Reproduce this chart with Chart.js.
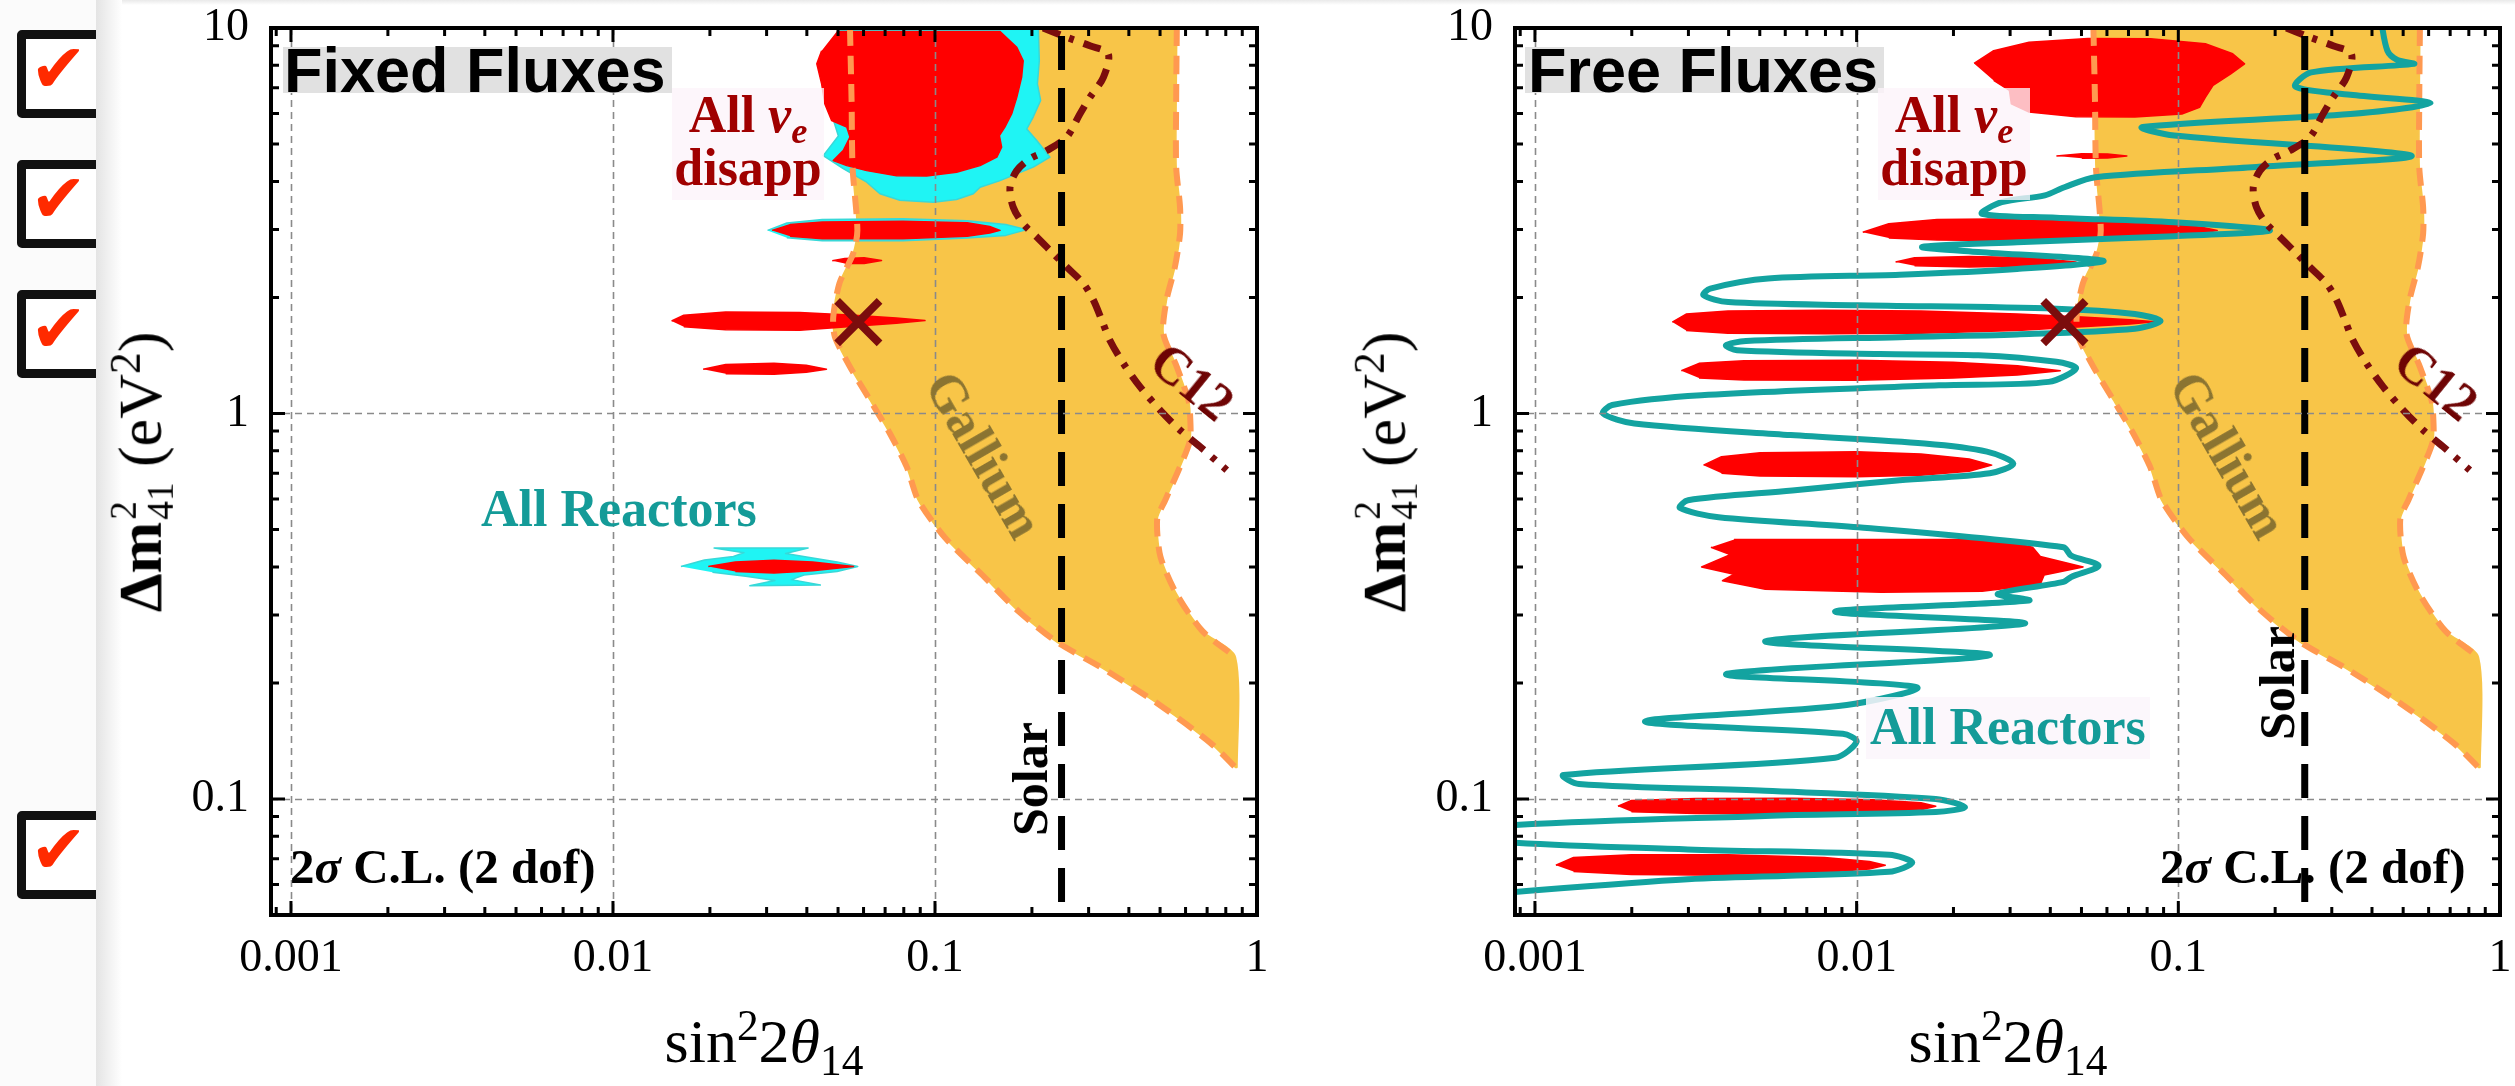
<!DOCTYPE html>
<html>
<head>
<meta charset="utf-8">
<title>Sterile neutrino fits: fixed vs free fluxes</title>
<script src="https://cdn.jsdelivr.net/npm/chart.js@4.4.1/dist/chart.umd.min.js"></script>
<style>
  html, body { margin: 0; padding: 0; background: #fff; }
  #page { position: relative; width: 2515px; height: 1086px; overflow: hidden; background: #fff;
          font-family: "Liberation Serif", "DejaVu Serif", serif; }
  .panel { position: absolute; top: 0; }
  .lbl { position: absolute; white-space: nowrap; line-height: 1; font-weight: bold; }
  .rot { transform: translate(-50%, -50%); transform-origin: center center; }
  .fluxTag { font-family: "Liberation Sans", Arial, sans-serif; font-size: 63px; line-height: 46px; height: 46px;
             background: #e1e1e1; color: #000; padding: 0 6px 0 1px; }
  .disapp { font-size: 52px; line-height: 53px; width: 152px; height: 112px; text-align: center;
            color: #a00000; background: rgba(252, 243, 250, 0.78); }
  .disapp sub, .axt sub, .axt sup { font-size: 0.7em; line-height: 0; }
  .reactors { font-size: 52px; color: #149b98; }
  .gallium { font-size: 52px; color: #8b7431; }
  .c12 { font-size: 52px; color: #6e0404; }
  .solar { font-size: 50px; color: #000; }
  .cl { font-size: 49px; color: #000; }
  .axt { position: absolute; white-space: nowrap; font-size: 62px; line-height: 62px; color: #000; }
  .stk { display: inline-block; vertical-align: -0.32em; font-size: 0.6em; line-height: 1; margin-left: 2px; }
  .stk span { display: block; }
  #rail { position: absolute; left: 0; top: 0; width: 96px; height: 1086px; overflow: hidden; background: #fbfbfb; }
  #railShade { position: absolute; left: 96px; top: 0; width: 26px; height: 1086px;
               background: linear-gradient(to right, #e4e4e4, #ffffff); }
  #topShade { position: absolute; left: 0; top: 0; width: 2515px; height: 5px;
              background: linear-gradient(to bottom, #e9e9e9, #ffffff); }
  .chk { position: absolute; left: 17px; width: 88px; height: 88px; box-sizing: border-box;
         border: 9px solid #111; border-radius: 5px; background: #fff; overflow: hidden; }
  .chk span { position: absolute; left: 4px; top: -10px; font-family: "DejaVu Sans", sans-serif;
              font-size: 68px; color: #ff2a00; }
</style>
</head>
<body>
<div id="page">
  <div id="topShade"></div>
  <div id="rail">
    <div class="chk" style="top:30px"><span>✔</span></div>
    <div class="chk" style="top:160px"><span>✔</span></div>
    <div class="chk" style="top:290px"><span>✔</span></div>
    <div class="chk" style="top:811px"><span>✔</span></div>
  </div>
  <div id="railShade"></div>

  <div class="panel" style="left:110px"><canvas id="fixedCanvas" width="1180" height="1086"></canvas></div>
  <div class="panel" style="left:1370px"><canvas id="freeCanvas" width="1145" height="1086"></canvas></div>

  <!-- left panel texts -->
  <div class="lbl fluxTag" style="left:283px; top:47px;">Fixed Fluxes</div>
  <div class="lbl disapp" style="left:672px; top:88px;">All <i>ν</i><sub><i>e</i></sub><br>disapp</div>
  <div class="lbl reactors" style="left:481px; top:483px;">All Reactors</div>
  <div class="lbl gallium rot" style="left:984px; top:455px; transform: translate(-50%,-50%) rotate(60deg);">Gallium</div>
  <div class="lbl c12 rot" style="left:1192px; top:382px; transform: translate(-50%,-50%) rotate(39deg);">C12</div>
  <div class="lbl solar rot" style="left:1030px; top:779px; transform: translate(-50%,-50%) rotate(-90deg);">Solar</div>
  <div class="lbl cl" style="left:290px; top:842px;">2<i>σ</i> C.L. (2 dof)</div>
  <div class="axt" style="left:764px; top:1010px; transform: translateX(-50%);">sin<sup>2</sup>2<i>θ</i><sub>14</sub></div>
  <div class="axt" style="left:142px; top:472px; transform: translate(-50%,-50%) rotate(-90deg);"><b>Δm</b><span class="stk"><span>2</span><span>41</span></span> (eV<sup>2</sup>)</div>

  <!-- right panel texts -->
  <div class="lbl fluxTag" style="left:1525px; top:47px; padding-left:3px;">Free Fluxes</div>
  <div class="lbl disapp" style="left:1878px; top:88px;">All <i>ν</i><sub><i>e</i></sub><br>disapp</div>
  <div class="lbl reactors" style="left:1866px; top:697px; padding:4px 4px 6px 4px; background:rgba(252,246,252,0.85);">All Reactors</div>
  <div class="lbl gallium rot" style="left:2228px; top:455px; transform: translate(-50%,-50%) rotate(60deg);">Gallium</div>
  <div class="lbl c12 rot" style="left:2436px; top:382px; transform: translate(-50%,-50%) rotate(39deg);">C12</div>
  <div class="lbl solar rot" style="left:2277px; top:683px; transform: translate(-50%,-50%) rotate(-90deg);">Solar</div>
  <div class="lbl cl" style="left:2160px; top:842px;">2<i>σ</i> C.L. (2 dof)</div>
  <div class="axt" style="left:2008px; top:1010px; transform: translateX(-50%);">sin<sup>2</sup>2<i>θ</i><sub>14</sub></div>
  <div class="axt" style="left:1386px; top:472px; transform: translate(-50%,-50%) rotate(-90deg);"><b>Δm</b><span class="stk"><span>2</span><span>41</span></span> (eV<sup>2</sup>)</div>
</div>

<script>
// Axis ranges and ticks (both panels share them)
const xMin = 0.000867, xMax = 1;
const yMin = 0.05, yMax = 10;
const xTickValues = [0.0009, 0.001, 0.002, 0.003, 0.004, 0.005, 0.006, 0.007, 0.008, 0.009,
  0.01, 0.02, 0.03, 0.04, 0.05, 0.06, 0.07, 0.08, 0.09,
  0.1, 0.2, 0.3, 0.4, 0.5, 0.6, 0.7, 0.8, 0.9, 1];
const xMajorTicks = [0.001, 0.01, 0.1, 1];
const xTickLabels = ['0.001', '0.01', '0.1', '1'];
const yTickValues = [0.05, 0.06, 0.07, 0.08, 0.09, 0.1, 0.2, 0.3, 0.4, 0.5, 0.6, 0.7, 0.8, 0.9,
  1, 2, 3, 4, 5, 6, 7, 8, 9, 10];
const yMajorTicks = [0.1, 1, 10];
const yTickLabels = ['0.1', '1', '10'];

// Contours, as [log10(sin^2 2θ14), log10(Δm²41 / eV²)]
const galliumLeftEdge = [
  [-1.264, 1.0], [-1.259, 0.812], [-1.256, 0.639], [-1.241, 0.475], [-1.254, 0.415],
  [-1.297, 0.337], [-1.316, 0.250], [-1.311, 0.199], [-1.264, 0.121], [-1.202, 0.035],
  [-1.140, -0.052], [-1.088, -0.138], [-1.052, -0.225], [-0.969, -0.322], [-0.853, -0.419],
  [-0.737, -0.516], [-0.621, -0.593], [-0.479, -0.661], [-0.299, -0.758], [-0.144, -0.855],
  [-0.067, -0.918]
];
const galliumRightEdge = [
  [-0.249, 1.0], [-0.251, 0.812], [-0.251, 0.639], [-0.239, 0.535], [-0.239, 0.466],
  [-0.255, 0.380], [-0.281, 0.294], [-0.291, 0.207], [-0.249, 0.121], [-0.213, 0.035],
  [-0.208, 0.0], [-0.208, -0.069], [-0.239, -0.138], [-0.285, -0.225], [-0.310, -0.274],
  [-0.300, -0.371], [-0.250, -0.468], [-0.170, -0.564], [-0.067, -0.632]
];
const galliumFoot = [[-0.062, -0.918]];

const c12Curve = [
  [-0.664, 1.0], [-0.591, 0.976], [-0.519, 0.954], [-0.462, 0.933], [-0.477, 0.872],
  [-0.519, 0.820], [-0.550, 0.777], [-0.591, 0.717], [-0.653, 0.682], [-0.705, 0.661],
  [-0.746, 0.630], [-0.767, 0.587], [-0.757, 0.535], [-0.726, 0.492], [-0.684, 0.458],
  [-0.633, 0.415], [-0.591, 0.380], [-0.539, 0.337], [-0.508, 0.294], [-0.482, 0.242],
  [-0.457, 0.190], [-0.415, 0.130], [-0.363, 0.069], [-0.301, 0.009], [-0.239, -0.043],
  [-0.177, -0.086], [-0.094, -0.147]
];
const solarLine = [[-0.607, -1.267], [-0.607, 1.0]];

// Fixed fluxes panel
const fixedBestFit = [[-1.238, 0.237]];
const fixedReactorsTop = [
  [-1.295, 1.0], [-0.679, 1.0], [-0.676, 0.915], [-0.682, 0.855], [-0.672, 0.812],
  [-0.695, 0.769], [-0.715, 0.738], [-0.684, 0.708], [-0.643, 0.665], [-0.695, 0.639],
  [-0.798, 0.604], [-0.860, 0.587], [-0.881, 0.570], [-0.933, 0.555], [-1.005, 0.548],
  [-1.109, 0.553], [-1.171, 0.570], [-1.212, 0.600], [-1.285, 0.635], [-1.347, 0.669],
  [-1.300, 0.720], [-1.330, 0.800], [-1.340, 0.900], [-1.300, 0.980]
];
const fixedReactorsBand = [
  [-1.520, 0.475], [-1.46, 0.494], [-1.35, 0.503], [-1.10, 0.505], [-0.90, 0.500],
  [-0.78, 0.490], [-0.715, 0.477], [-0.78, 0.462], [-0.90, 0.455], [-1.10, 0.448],
  [-1.35, 0.448], [-1.46, 0.456]
];
const fixedReactorsLow = [
  [-1.789, -0.397], [-1.716, -0.380], [-1.626, -0.371], [-1.593, -0.361], [-1.686, -0.349],
  [-1.394, -0.349], [-1.464, -0.363], [-1.394, -0.373], [-1.304, -0.385], [-1.240, -0.397],
  [-1.304, -0.410], [-1.407, -0.419], [-1.446, -0.431], [-1.356, -0.445], [-1.575, -0.447],
  [-1.497, -0.433], [-1.588, -0.422], [-1.691, -0.412]
];
const fixedDisappTop = [
  [-1.305, 0.991], [-0.798, 0.991], [-0.746, 0.950], [-0.726, 0.915], [-0.731, 0.872],
  [-0.746, 0.820], [-0.762, 0.777], [-0.783, 0.743], [-0.800, 0.721], [-0.793, 0.691],
  [-0.808, 0.665], [-0.860, 0.643], [-0.933, 0.626], [-1.026, 0.616], [-1.119, 0.617],
  [-1.212, 0.630], [-1.274, 0.643], [-1.316, 0.656], [-1.285, 0.682], [-1.264, 0.717],
  [-1.274, 0.743], [-1.321, 0.760], [-1.342, 0.803], [-1.352, 0.855], [-1.367, 0.907],
  [-1.352, 0.941]
];
const fixedDisappBand1 = [
  [-1.506, 0.475], [-1.45, 0.490], [-1.35, 0.497], [-1.10, 0.499], [-0.90, 0.495],
  [-0.83, 0.485], [-0.798, 0.475], [-0.83, 0.468], [-0.90, 0.460], [-1.10, 0.453],
  [-1.35, 0.453], [-1.45, 0.460]
];
const fixedDisappBand2 = [
  [-1.319, 0.396], [-1.28, 0.402], [-1.22, 0.404], [-1.166, 0.397], [-1.22, 0.389], [-1.28, 0.389]
];
const fixedDisappBand3 = [
  [-1.818, 0.240], [-1.78, 0.255], [-1.65, 0.263], [-1.42, 0.262], [-1.25, 0.255],
  [-1.12, 0.248], [-1.031, 0.241], [-1.12, 0.234], [-1.25, 0.226], [-1.42, 0.216],
  [-1.65, 0.217], [-1.78, 0.225]
];
const fixedDisappBand4 = [
  [-1.720, 0.115], [-1.65, 0.127], [-1.50, 0.130], [-1.40, 0.125], [-1.337, 0.115],
  [-1.40, 0.107], [-1.50, 0.102], [-1.65, 0.103]
];
const fixedDisappLow = [
  [-1.704, -0.397], [-1.62, -0.385], [-1.50, -0.381], [-1.38, -0.385], [-1.253, -0.397],
  [-1.38, -0.408], [-1.50, -0.414], [-1.62, -0.410]
];

// Free fluxes panel
const freeBestFit = [[-1.354, 0.237]];
const freeDisappTop = [
  [-1.635, 0.908], [-1.574, 0.941], [-1.464, 0.963], [-1.281, 0.973], [-1.086, 0.972],
  [-0.916, 0.959], [-0.831, 0.933], [-0.794, 0.907], [-0.837, 0.881], [-0.892, 0.851],
  [-0.916, 0.820], [-0.934, 0.794], [-0.989, 0.777], [-1.135, 0.769], [-1.318, 0.770],
  [-1.464, 0.782], [-1.519, 0.803], [-1.525, 0.838], [-1.574, 0.864]
];
const freeDisappSliver = [[-1.379, 0.668], [-1.30, 0.674], [-1.22, 0.673], [-1.160, 0.668], [-1.22, 0.663], [-1.30, 0.662]];
const freeDisappBand1 = [
  [-1.981, 0.470], [-1.90, 0.492], [-1.75, 0.503], [-1.50, 0.505], [-1.20, 0.500],
  [-1.00, 0.490], [-0.92, 0.482], [-0.879, 0.475], [-0.92, 0.468], [-1.00, 0.462],
  [-1.20, 0.452], [-1.50, 0.448], [-1.75, 0.450], [-1.90, 0.455]
];
const freeDisappBand2 = [
  [-1.879, 0.393], [-1.82, 0.404], [-1.65, 0.407], [-1.45, 0.404], [-1.318, 0.393],
  [-1.45, 0.383], [-1.65, 0.380], [-1.82, 0.383]
];
const freeDisappBand3 = [
  [-2.573, 0.237], [-2.53, 0.258], [-2.40, 0.266], [-2.10, 0.268], [-1.80, 0.266],
  [-1.50, 0.258], [-1.30, 0.250], [-1.15, 0.243], [-1.074, 0.238], [-1.15, 0.232],
  [-1.30, 0.225], [-1.50, 0.215], [-1.80, 0.208], [-2.10, 0.207], [-2.40, 0.208], [-2.53, 0.215]
];
const freeDisappBand4 = [
  [-2.545, 0.111], [-2.49, 0.130], [-2.35, 0.137], [-2.00, 0.138], [-1.70, 0.133],
  [-1.50, 0.124], [-1.367, 0.111], [-1.50, 0.100], [-1.70, 0.092], [-2.00, 0.086],
  [-2.35, 0.087], [-2.49, 0.092]
];
const freeDisappBand5 = [
  [-2.476, -0.134], [-2.42, -0.112], [-2.30, -0.102], [-2.00, -0.099], [-1.80, -0.105],
  [-1.65, -0.118], [-1.580, -0.134], [-1.65, -0.150], [-1.80, -0.160], [-2.00, -0.164],
  [-2.30, -0.162], [-2.42, -0.155]
];
const freeDisappBlob = [
  [-2.381, -0.327], [-1.561, -0.327], [-1.453, -0.347], [-1.429, -0.371], [-1.296, -0.398],
  [-1.417, -0.419], [-1.429, -0.443], [-1.610, -0.461], [-1.923, -0.464], [-2.284, -0.456],
  [-2.417, -0.434], [-2.381, -0.417], [-2.482, -0.398], [-2.393, -0.366], [-2.453, -0.347]
];
const freeDisappBand6 = [
  [-2.742, -1.019], [-2.70, -1.004], [-2.50, -0.999], [-2.20, -0.998], [-1.95, -1.002],
  [-1.80, -1.010], [-1.754, -1.019], [-1.80, -1.028], [-1.95, -1.035], [-2.20, -1.039],
  [-2.50, -1.038], [-2.70, -1.033]
];
const freeDisappBand7 = [
  [-2.935, -1.172], [-2.88, -1.152], [-2.70, -1.145], [-2.40, -1.145], [-2.10, -1.152],
  [-1.96, -1.162], [-1.911, -1.172], [-1.96, -1.182], [-2.10, -1.190], [-2.40, -1.198],
  [-2.70, -1.196], [-2.88, -1.188]
];
const freeReactorsContour = [
  [-0.370, 1.02], [-0.350, 0.941], [-0.319, 0.917], [-0.268, 0.907], [-0.587, 0.885],
  [-0.636, 0.848], [-0.465, 0.827], [-0.216, 0.805], [-0.465, 0.777], [-1.111, 0.743],
  [-1.013, 0.721], [-0.276, 0.669], [-0.770, 0.639], [-1.257, 0.613], [-1.354, 0.587],
  [-1.415, 0.566], [-1.549, 0.548], [-1.610, 0.518], [-1.379, 0.508], [-1.013, 0.496],
  [-0.715, 0.475], [-1.013, 0.460], [-1.501, 0.444], [-1.796, 0.432], [-1.622, 0.419],
  [-1.233, 0.396], [-1.501, 0.375], [-1.866, 0.360], [-2.275, 0.350], [-2.455, 0.324],
  [-2.476, 0.307], [-2.399, 0.289], [-1.997, 0.281], [-1.379, 0.272], [-1.135, 0.258],
  [-1.055, 0.240], [-1.135, 0.220], [-1.501, 0.205], [-1.866, 0.198], [-2.344, 0.188],
  [-2.406, 0.177], [-2.372, 0.164], [-1.928, 0.154], [-1.622, 0.151], [-1.379, 0.134],
  [-1.318, 0.117], [-1.403, 0.082], [-1.744, 0.073], [-2.483, 0.047], [-2.760, 0.022],
  [-2.788, 0.0], [-2.691, -0.026], [-2.205, -0.056], [-1.789, -0.078], [-1.595, -0.099],
  [-1.513, -0.130], [-1.586, -0.155], [-1.866, -0.173], [-2.200, -0.200], [-2.524, -0.225],
  [-2.549, -0.245], [-2.429, -0.269], [-1.995, -0.295], [-1.357, -0.347], [-1.333, -0.369],
  [-1.248, -0.395], [-1.333, -0.424], [-1.357, -0.437], [-1.561, -0.468], [-1.465, -0.485],
  [-2.067, -0.514], [-1.477, -0.545], [-2.284, -0.591], [-1.586, -0.627], [-2.405, -0.676],
  [-1.814, -0.710], [-2.031, -0.756], [-2.658, -0.799], [-2.043, -0.831], [-2.000, -0.851],
  [-2.067, -0.893], [-2.911, -0.938], [-2.863, -0.961], [-2.284, -0.979], [-1.754, -1.000],
  [-1.663, -1.021], [-1.754, -1.034], [-2.284, -1.044], [-3.200, -1.075], [-3.200, -1.105],
  [-2.525, -1.131], [-1.899, -1.145], [-1.827, -1.165], [-1.899, -1.189], [-2.525, -1.208],
  [-3.200, -1.250]
];

const RED = '#ff0000';
const CYAN = '#1ff4f4';
const YELLOW = '#f8c548';
const ORANGE = '#ff9950';
const TEAL = '#13a3a0';
const DARKRED = '#7b0d0d';

const toPoints = pairs => pairs.map(([lx, ly]) => ({x: 10 ** lx, y: 10 ** ly}));

function area(pairs, color, edge, order, tension = 0) {
  return {data: toPoints(pairs), fill: 'shape', backgroundColor: color, borderColor: edge,
    borderWidth: 1.5, borderJoinStyle: 'round', tension, pointRadius: 0, order, clip: 0};
}
function curve(pairs, color, width, dash, order, tension = 0) {
  return {data: toPoints(pairs), fill: false, borderColor: color, borderWidth: width,
    borderDash: dash, borderCapStyle: 'butt', borderJoinStyle: 'round', tension,
    pointRadius: 0, order, clip: 0};
}
function bestFit(pairs) {
  return {data: toPoints(pairs), showLine: false, pointStyle: 'crossRot', pointRadius: 30,
    pointBorderWidth: 8, pointBorderColor: DARKRED, pointBackgroundColor: DARKRED,
    borderColor: DARKRED, order: 0, clip: false};
}
function galliumSets() {
  const outline = [...galliumLeftEdge, ...galliumFoot, ...galliumRightEdge.slice().reverse()];
  return [
    area(outline, YELLOW, YELLOW, 9, 0.25),
    curve(galliumLeftEdge, ORANGE, 6, [18, 10], 4, 0.25),
    curve(galliumRightEdge, ORANGE, 6, [18, 10], 4, 0.25)
  ];
}

// Grid lines on top, inward frame ticks, box frame
const frameAndGrid = {
  id: 'frameAndGrid',
  afterDatasetsDraw(chart) {
    const {ctx, chartArea: a, scales: {x, y}} = chart;
    const inside = (s, t) => t.value > s.min && t.value < s.max;
    ctx.save();
    ctx.strokeStyle = '#8a8a8a';
    ctx.lineWidth = 1.6;
    ctx.setLineDash([7, 5]);
    x.ticks.filter(t => t.major && inside(x, t)).forEach(t => {
      const px = Math.round(x.getPixelForValue(t.value)) + 0.5;
      ctx.beginPath(); ctx.moveTo(px, a.top); ctx.lineTo(px, a.bottom); ctx.stroke();
    });
    y.ticks.filter(t => t.major && inside(y, t)).forEach(t => {
      const py = Math.round(y.getPixelForValue(t.value)) + 0.5;
      ctx.beginPath(); ctx.moveTo(a.left, py); ctx.lineTo(a.right, py); ctx.stroke();
    });
    ctx.setLineDash([]);
    ctx.strokeStyle = '#000';
    ctx.lineWidth = 3;
    x.ticks.filter(t => inside(x, t)).forEach(t => {
      const px = x.getPixelForValue(t.value), len = t.major ? 14 : 8;
      ctx.beginPath();
      ctx.moveTo(px, a.bottom); ctx.lineTo(px, a.bottom - len);
      ctx.moveTo(px, a.top); ctx.lineTo(px, a.top + len);
      ctx.stroke();
    });
    y.ticks.filter(t => inside(y, t)).forEach(t => {
      const py = y.getPixelForValue(t.value), len = t.major ? 14 : 8;
      ctx.beginPath();
      ctx.moveTo(a.left, py); ctx.lineTo(a.left + len, py);
      ctx.moveTo(a.right, py); ctx.lineTo(a.right - len, py);
      ctx.stroke();
    });
    ctx.lineWidth = 4;
    ctx.strokeRect(a.left, a.top, a.right - a.left, a.bottom - a.top);
    ctx.restore();
  }
};

function panelOptions(yWidth, padRight) {
  const tickFont = {family: '"Liberation Serif", "DejaVu Serif", serif', size: 46};
  return {
    responsive: false,
    animation: false,
    devicePixelRatio: 1,
    events: [],
    layout: {autoPadding: false, padding: {top: 28, right: padRight, bottom: 0, left: 0}},
    plugins: {legend: {display: false}, tooltip: {enabled: false}, colors: {enabled: false}},
    scales: {
      x: {
        type: 'logarithmic', min: xMin, max: xMax,
        grid: {display: false}, border: {display: false},
        afterBuildTicks: s => { s.ticks = xTickValues.map(v => ({value: v, major: xMajorTicks.includes(v)})); },
        afterFit: s => { s.height = 171; s.paddingLeft = 0; s.paddingRight = 0; },
        ticks: {
          autoSkip: false, maxRotation: 0, minRotation: 0, padding: 8, color: '#000', font: tickFont,
          callback: v => { const i = xMajorTicks.indexOf(v); return i < 0 ? '' : xTickLabels[i]; }
        }
      },
      y: {
        type: 'logarithmic', min: yMin, max: yMax,
        grid: {display: false}, border: {display: false},
        afterBuildTicks: s => { s.ticks = yTickValues.map(v => ({value: v, major: yMajorTicks.includes(v)})); },
        afterFit: s => { s.width = yWidth; s.paddingTop = 0; s.paddingBottom = 0; },
        ticks: {
          autoSkip: false, padding: 14, color: '#000', font: tickFont,
          callback: v => { const i = yMajorTicks.indexOf(v); return i < 0 ? '' : yTickLabels[i]; }
        }
      }
    }
  };
}

const fixedSets = [
  bestFit(fixedBestFit),
  curve(solarLine, '#000', 7, [34, 18], 1),
  curve(c12Curve, DARKRED, 7, [18, 10, 5, 10], 2, 0.3),
  ...galliumSets(),
  ...[fixedDisappTop, fixedDisappBand1, fixedDisappBand2, fixedDisappBand3, fixedDisappBand4, fixedDisappLow]
    .map(p => area(p, RED, RED, 6)),
  ...[fixedReactorsTop, fixedReactorsBand, fixedReactorsLow].map(p => area(p, CYAN, '#38d8d8', 7))
];

const freeSets = [
  bestFit(freeBestFit),
  curve(solarLine, '#000', 7, [34, 18], 1),
  curve(c12Curve, DARKRED, 7, [18, 10, 5, 10], 2, 0.3),
  curve(freeReactorsContour, TEAL, 6, [], 3, 0.3),
  ...galliumSets(),
  ...[freeDisappTop, freeDisappSliver, freeDisappBand1, freeDisappBand2, freeDisappBand3, freeDisappBand4,
      freeDisappBand5, freeDisappBlob, freeDisappBand6, freeDisappBand7].map(p => area(p, RED, RED, 6))
];

new Chart(document.getElementById('fixedCanvas'), {
  type: 'line',
  data: {datasets: fixedSets},
  options: panelOptions(161, 33),
  plugins: [frameAndGrid]
});

new Chart(document.getElementById('freeCanvas'), {
  type: 'line',
  data: {datasets: freeSets},
  options: panelOptions(145, 15),
  plugins: [frameAndGrid]
});
</script>
</body>
</html>
